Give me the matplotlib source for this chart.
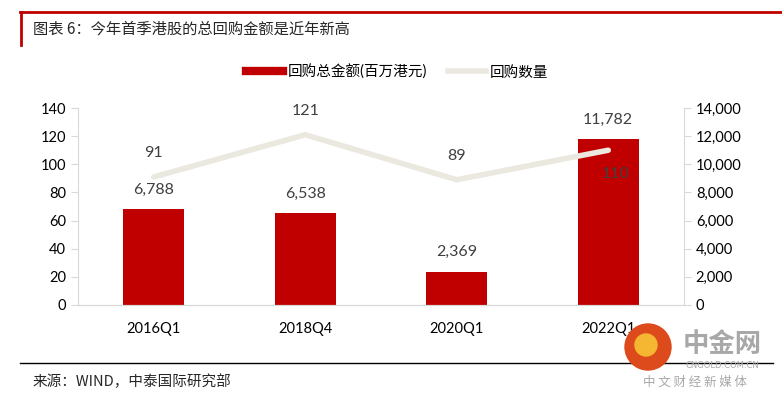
import matplotlib
matplotlib.use("Agg")
import matplotlib.pyplot as plt
from matplotlib.lines import Line2D
from matplotlib.patches import Ellipse

plt.rcParams['font.family'] = ['Lato', 'Noto Sans CJK SC', 'DejaVu Sans']

categories = ["2016Q1", "2018Q4", "2020Q1", "2022Q1"]
amount = [6788, 6538, 2369, 11782]      # 回购总金额(百万港元), right axis
count = [91, 121, 89, 110]              # 回购数量, left axis
left_ticks = [0, 20, 40, 60, 80, 100, 120, 140]
right_ticks = [0, 2000, 4000, 6000, 8000, 10000, 12000, 14000]

title = "图表 6：今年首季港股的总回购金额是近年新高"
source = "来源：WIND，中泰国际研究部"
bar_label = "回购总金额(百万港元)"
line_label = "回购数量"

W, H = 782, 399
fig = plt.figure(figsize=(W / 100, H / 100), dpi=100)

bar_color = "#C00000"
line_color = "#EBE8DF"
label_color = "#404040"
axis_gray = "#D9D9D9"

ax = fig.add_axes([78 / W, (H - 305) / H, (684 - 78) / W, (305 - 108) / H])
ax2 = ax.twinx()

x = list(range(len(categories)))

# bars on the right axis
ax2.bar(x, amount, width=0.4, color=bar_color, zorder=1)
ax2.set_ylim(0, 14000)
ax2.set_yticks(right_ticks)
ax2.set_yticklabels([f"{v:,}" for v in right_ticks])
for xi, v in zip(x, amount):
    ax2.annotate(f"{v:,}", (xi, v), xytext=(0, 9), textcoords="offset points",
                 ha="center", va="bottom", fontsize=11.5, color=label_color)

# line on the left axis, drawn on top
ax.set_zorder(ax2.get_zorder() + 1)
ax.patch.set_visible(False)
ax.plot(x, count, color=line_color, lw=4, solid_capstyle="round", solid_joinstyle="miter")
ax.set_ylim(0, 140)
ax.set_yticks(left_ticks)
ax.set_xlim(-0.5, 3.5)
ax.set_xticks(x)
ax.set_xticklabels(categories)
for i, (xi, v) in enumerate(zip(x, count)):
    if i == len(count) - 1:
        ax.annotate(str(v), (xi, v), xytext=(5, -12), textcoords="offset points",
                    ha="center", va="top", fontsize=11.5, color=label_color)
    else:
        ax.annotate(str(v), (xi, v), xytext=(0, 12), textcoords="offset points",
                    ha="center", va="bottom", fontsize=11.5, color=label_color)

for a in (ax, ax2):
    for s in a.spines.values():
        s.set_color(axis_gray)
    a.spines["top"].set_visible(False)
    a.tick_params(axis="y", colors=axis_gray, labelcolor="black", labelsize=10.5, length=5)
ax.tick_params(axis="x", length=0, labelsize=10.5, pad=12)
ax2.spines["left"].set_visible(False)
ax.spines["right"].set_visible(False)

# legend
handles = [Line2D([0], [0], color=bar_color, lw=6),
           Line2D([0], [0], color=line_color, lw=4)]
fig.legend(handles, [bar_label, line_label], loc="center", ncol=2,
           bbox_to_anchor=(397 / W, 1 - 72 / H), frameon=False, fontsize=10.5,
           handlelength=2.6, handletextpad=0.3, columnspacing=1.4)

# title frame
fig.add_artist(Line2D([20 / W, 1], [1 - 12 / H, 1 - 12 / H], color="#C00000", lw=2))
fig.add_artist(Line2D([21 / W, 21 / W], [1 - 12 / H, 1 - 45 / H], color="#C00000", lw=2))
fig.text(33 / W, 1 - 29 / H, title, fontsize=11, color="#262626", va="center",
         family=["Noto Sans CJK SC", "DejaVu Sans"])

# bottom line and source
fig.add_artist(Line2D([20 / W, 773 / W], [1 - 363 / H, 1 - 363 / H], color="black", lw=1))
fig.text(33 / W, 1 - 382 / H, source, fontsize=10.5, color="#262626", va="center",
         family=["Noto Sans CJK SC", "DejaVu Sans"])

# watermark
fig.add_artist(Ellipse((648 / W, 1 - 347 / H), 46 / W, 46 / H,
                       transform=fig.transFigure, color="#DD4A1C", zorder=5))
fig.add_artist(Ellipse((646 / W, 1 - 345 / H), 22 / W, 22 / H,
                       transform=fig.transFigure, color="#F5B731", zorder=6))
fig.text(722 / W, 1 - 345 / H, "中金网", fontsize=19, color="#A8A8A8", ha="center",
         va="center", weight="bold", family=["Noto Sans CJK SC"], zorder=5)
fig.text(722 / W, 1 - 366 / H, "CNGOLD.COM.CN", fontsize=6, color="#A8A8A8",
         ha="center", va="center", family=["DejaVu Sans"], zorder=5)
fig.text(695 / W, 1 - 382 / H, "中 文 财 经 新 媒 体", fontsize=9, color="#A8A8A8",
         ha="center", va="center", family=["Noto Sans CJK SC"], zorder=5)

fig.savefig("out.png", dpi=100)
